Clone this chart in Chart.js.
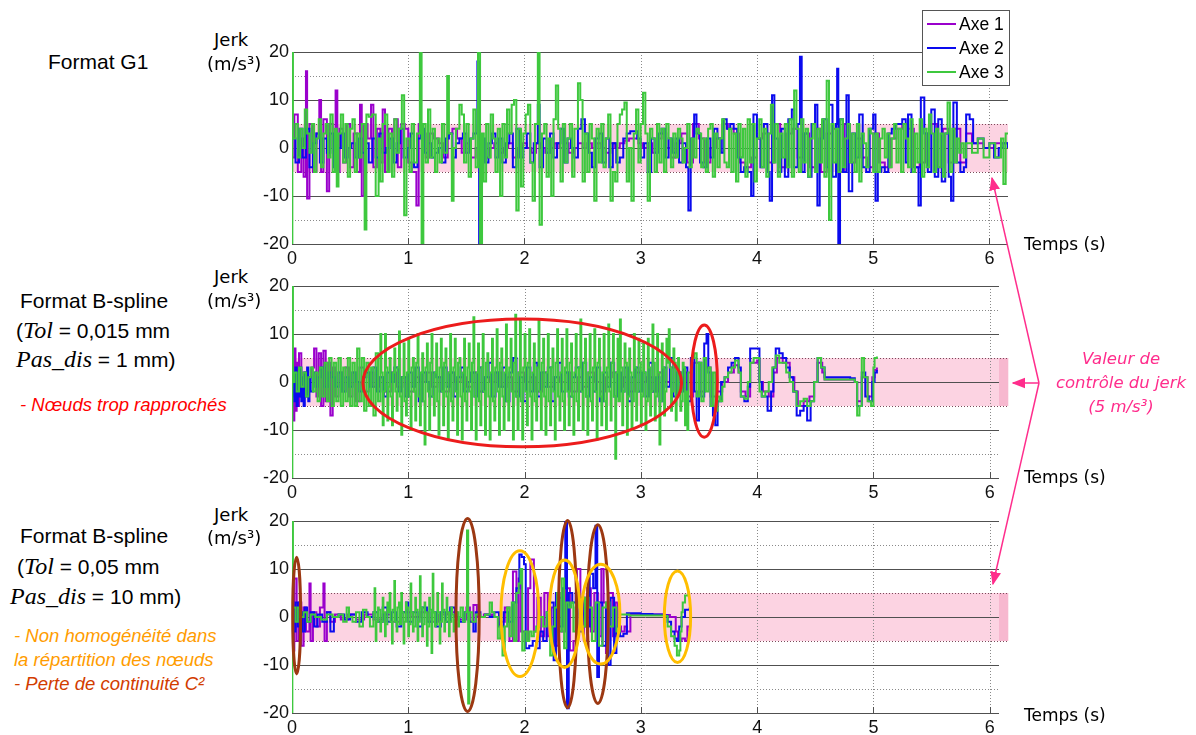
<!DOCTYPE html>
<html>
<head>
<meta charset="utf-8">
<script src="https://cdn.jsdelivr.net/npm/chart.js@4.4.1/dist/chart.umd.min.js"></script>
<style>
  html, body { margin: 0; padding: 0; background: #fff; overflow: hidden; }
  #page { position: relative; width: 1196px; height: 735px; font-family: "Liberation Sans", Arial, sans-serif; color: #000; }
  canvas { position: absolute; left: 250px; }
  .t { position: absolute; white-space: nowrap; line-height: 1; }
  .fmt { font-size: 21px; }
  .ser { font-family: "Liberation Serif", "Times New Roman", serif; font-style: italic; font-size: 24px; }
  .unit { font-family: "DejaVu Sans", sans-serif; font-size: 18px; }
  .temps { font-family: "DejaVu Sans", sans-serif; font-size: 17px; }
  .note { font-style: italic; font-size: 18.5px; }
  .pink { font-family: "DejaVu Sans", sans-serif; font-style: italic; font-size: 16.5px; color: #ff2d8c; width: 180px; left: 1031px; text-align: center; }
  #legend { position: absolute; left: 922px; top: 10px; width: 88px; height: 76px; border: 1px solid #555; background: #fff; box-sizing: border-box; }
  #legend div { position: absolute; left: 4px; height: 20px; font-size: 17.5px; line-height: 20px; }
  #legend span { display: inline-block; width: 29px; height: 2px; vertical-align: middle; margin-right: 3px; position: relative; top: -1px; }
  svg { position: absolute; left: 0; top: 0; }
</style>
</head>
<body>
<div id="page">
  <canvas id="c1" width="946" height="236" style="top:38px"></canvas>
  <canvas id="c2" width="946" height="236" style="top:272px"></canvas>
  <canvas id="c3" width="946" height="236" style="top:507px"></canvas>

  <div class="t fmt" style="left:48px;top:51px">Format G1</div>

  <div class="t fmt" style="left:20px;top:290px">Format B-spline</div>
  <div class="t fmt" style="left:16px;top:318px">(<span class="ser">Tol</span> = 0,015 mm</div>
  <div class="t fmt" style="left:16px;top:347px"><span class="ser">Pas_dis</span> = 1 mm)</div>
  <div class="t note" style="left:20px;top:396px;color:#ff0000">- Nœuds trop rapprochés</div>

  <div class="t fmt" style="left:20px;top:525px">Format B-spline</div>
  <div class="t fmt" style="left:17px;top:554px">(<span class="ser">Tol</span> = 0,05 mm</div>
  <div class="t fmt" style="left:10px;top:584px"><span class="ser">Pas_dis</span> = 10 mm)</div>
  <div class="t note" style="left:14px;top:627px;color:#ff9c00">- Non homogénéité dans</div>
  <div class="t note" style="left:14px;top:651px;color:#ff9c00">la répartition des nœuds</div>
  <div class="t note" style="left:14px;top:675px;color:#d23c00">- Perte de continuité C²</div>

  <div class="t unit" style="left:214px;top:31px">Jerk</div>
  <div class="t unit" style="left:207px;top:55px">(m/s³)</div>
  <div class="t unit" style="left:214px;top:268px">Jerk</div>
  <div class="t unit" style="left:207px;top:292px">(m/s³)</div>
  <div class="t unit" style="left:214px;top:506px">Jerk</div>
  <div class="t unit" style="left:207px;top:529px">(m/s³)</div>

  <div class="t temps" style="left:1024px;top:236px">Temps (s)</div>
  <div class="t temps" style="left:1024px;top:469px">Temps (s)</div>
  <div class="t temps" style="left:1024px;top:707px">Temps (s)</div>

  <div class="t pink" style="top:351px">Valeur de</div>
  <div class="t pink" style="top:375px">contrôle du jerk</div>
  <div class="t pink" style="top:399px">(5 m/s³)</div>

  <svg width="1196" height="735">
    <defs>
      <marker id="ah" viewBox="0 0 10 10" refX="9" refY="5" markerWidth="9" markerHeight="9" orient="auto">
        <path d="M0,1 L10,5 L0,9 z" fill="#ff2d8c"/>
      </marker>
    </defs>
    <g stroke="#ff2d8c" stroke-width="1.5" fill="none">
      <line x1="1039" y1="383" x2="992" y2="178" marker-end="url(#ah)"/>
      <line x1="1039" y1="383" x2="993" y2="584" marker-end="url(#ah)"/>
      <line x1="1039" y1="383" x2="1013" y2="383" marker-end="url(#ah)"/>
    </g>
  </svg>

  <div id="legend">
    <div style="top:3px"><span style="background:#9a00cc"></span>Axe 1</div>
    <div style="top:27px"><span style="background:#0a0aee"></span>Axe 2</div>
    <div style="top:51px"><span style="background:#3ec83e"></span>Axe 3</div>
  </div>
</div>

<script>
// axis ticks
const xTicks = [0, 1, 2, 3, 4, 5, 6];
const yTicks = [-20, -10, 0, 10, 20];
const jerkLimit = 5;

// ---- Format G1 : [temps (s), jerk (m/s3)]
const g1Axe1 = [[0,-2],[0.02,7],[0.05,-5],[0.08,2],[0.10,-6],[0.12,16],[0.13,-10.5],[0.15,5],[0.18,-5],[0.21,3],[0.235,10],[0.25,-5],[0.27,6],[0.30,-9],[0.32,5],[0.35,0],[0.375,12],[0.39,-5],[0.41,4],[0.44,-3],[0.47,5],[0.50,-4],[0.53,3],[0.56,-5],[0.585,9],[0.60,-10],[0.62,5],[0.65,2],[0.68,9],[0.70,-4],[0.73,4],[0.76,-3],[0.78,8],[0.80,-5],[0.83,4],[0.86,2],[0.88,6],[0.91,-4],[0.94,5],[0.97,4],[1.00,-3],[1.03,-5],[1.07,-12],[1.09,5],[1.12,3],[1.15,-2],[1.18,3],[1.22,2],[1.26,1],[1.30,-2],[1.34,3],[1.38,4],[1.42,2],[1.46,-1],[1.50,1],[1.54,-2],[1.58,0],[1.62,1],[1.66,-2],[1.70,0],[1.74,1],[1.78,-1],[1.82,0],[1.86,1],[1.90,-2],[1.94,0],[1.98,1],[2.02,0],[2.06,-1],[2.10,1],[2.14,0],[2.18,-1],[2.22,0],[2.26,1],[2.30,0],[2.34,1],[2.38,-1],[2.42,0],[2.46,1],[2.50,0],[2.54,1],[2.58,0],[2.62,1],[2.66,0],[2.70,-1],[2.74,1],[2.78,0],[2.82,1],[2.86,1.5],[2.90,2],[2.94,2],[2.98,1],[3.02,0],[3.06,1],[3.10,-1],[3.14,2],[3.18,3],[3.22,0],[3.26,-2],[3.30,1],[3.35,3],[3.40,-3],[3.45,5],[3.50,2],[3.55,-3],[3.60,0],[3.65,2],[3.70,5],[3.75,4],[3.80,3],[3.85,-3],[3.90,-4],[3.95,-2],[4.00,2],[4.05,3],[4.10,-3],[4.15,5],[4.20,-4],[4.25,3],[4.30,4],[4.35,-2],[4.40,3],[4.45,-4],[4.50,4],[4.55,-5],[4.60,3],[4.65,4],[4.70,-5],[4.75,5],[4.80,-3],[4.85,2],[4.90,-2],[4.95,-4],[5.00,3],[5.05,-3],[5.10,-4],[5.15,2],[5.20,4],[5.25,5],[5.30,4],[5.35,-4],[5.40,-3],[5.45,3],[5.50,5],[5.55,-4],[5.60,4],[5.65,-3],[5.70,4],[5.75,-3],[5.80,3],[5.85,1],[5.95,0],[6.05,1],[6.16,0]];
const g1Axe2 = [[0,2],[0.03,-3],[0.06,4],[0.09,-2],[0.12,4],[0.15,-4],[0.18,1],[0.21,3],[0.24,-3],[0.27,2],[0.30,-1],[0.33,3],[0.36,-4],[0.39,0],[0.42,3],[0.45,-2],[0.48,0],[0.51,1],[0.54,-2],[0.57,2],[0.60,-1],[0.63,1],[0.66,-3],[0.69,2],[0.72,-2],[0.75,3],[0.78,-1],[0.81,0],[0.84,2],[0.87,-3],[0.90,1],[0.93,4],[0.96,-2],[0.99,0],[1.02,3],[1.05,-4],[1.08,2],[1.11,4],[1.14,-1],[1.17,1],[1.20,-2],[1.23,-1],[1.26,0],[1.29,-3],[1.32,2],[1.35,3],[1.38,-2],[1.41,1],[1.44,2],[1.47,3],[1.50,-1],[1.53,2],[1.56,3],[1.595,18],[1.61,-20],[1.625,2],[1.66,-3],[1.69,1],[1.72,3],[1.75,-2],[1.78,2],[1.81,-3],[1.84,1],[1.87,3],[1.90,-4],[1.93,4],[1.96,-2],[1.99,0],[2.02,3],[2.05,-3],[2.08,1],[2.115,9],[2.13,-4],[2.16,2],[2.19,-1],[2.22,3],[2.25,-2],[2.28,1],[2.31,4],[2.34,-3],[2.37,2],[2.40,0],[2.43,-2],[2.46,4],[2.49,6],[2.52,3],[2.55,-1],[2.58,-4],[2.61,2],[2.64,3],[2.67,-3],[2.70,2],[2.73,-4],[2.76,1],[2.79,-3],[2.82,-2],[2.85,2],[2.88,3],[2.91,3.5],[2.94,3.5],[2.97,2],[3.00,-2],[3.03,1],[3.06,-5],[3.09,2],[3.12,-1],[3.15,3],[3.18,4],[3.21,-2],[3.24,2],[3.27,-1],[3.30,2],[3.33,-3],[3.36,1],[3.39,-4],[3.41,-13],[3.43,2],[3.46,7],[3.48,3],[3.51,-3],[3.54,-4],[3.57,2],[3.60,-2],[3.63,4],[3.66,2],[3.69,-1],[3.71,6],[3.74,4],[3.77,5],[3.80,4],[3.83,-2],[3.86,-5],[3.89,-4],[3.92,-5],[3.95,-10],[3.97,7],[4.00,2],[4.03,-4],[4.06,5],[4.09,-5],[4.11,-11],[4.13,11],[4.15,2],[4.18,-5],[4.21,4],[4.24,-6],[4.27,6],[4.30,8],[4.32,-4],[4.35,5],[4.37,19],[4.385,-5],[4.41,3],[4.44,-6],[4.47,5],[4.50,9],[4.52,-12],[4.54,2],[4.57,6],[4.60,-4],[4.62,9],[4.65,-6],[4.68,5],[4.69,16.5],[4.70,-20],[4.715,6],[4.74,-5],[4.77,11],[4.79,-9],[4.82,3],[4.85,-2],[4.88,7],[4.91,-4],[4.94,-5],[4.97,4],[5.00,7],[5.02,-11],[5.04,-5],[5.07,-4],[5.10,-5],[5.13,3],[5.16,4],[5.19,5],[5.22,5],[5.25,6],[5.28,-3],[5.30,7],[5.33,-5],[5.36,-4],[5.39,-12],[5.41,10.5],[5.44,3],[5.47,-5],[5.50,8],[5.53,-6],[5.56,6],[5.59,-7],[5.62,3],[5.65,-6],[5.67,-11],[5.69,9.5],[5.72,-3],[5.75,-5],[5.78,-4],[5.80,7],[5.83,6],[5.86,1],[5.90,2],[5.95,0],[6.00,1],[6.04,-2],[6.08,0],[6.12,1],[6.16,0]];
const g1Axe3 = [[0,-20],[0.003,20],[0.008,2],[0.03,5],[0.05,-2],[0.07,4],[0.09,0],[0.11,8],[0.13,3],[0.15,-1],[0.17,5],[0.19,-5],[0.21,2],[0.23,6],[0.25,-4],[0.27,3],[0.29,5],[0.31,-2],[0.33,7],[0.35,-5],[0.37,4],[0.385,-8],[0.40,3],[0.42,7],[0.44,-3],[0.46,5],[0.48,-6],[0.50,4],[0.52,6],[0.54,-5],[0.56,3],[0.58,-2],[0.60,5],[0.625,-17],[0.64,7],[0.66,6.5],[0.69,7],[0.72,-10],[0.745,2],[0.76,-7],[0.78,5],[0.80,7],[0.82,-5],[0.84,3],[0.86,-6],[0.88,6],[0.90,-1],[0.92,4],[0.945,11],[0.965,-14],[0.985,2],[1.01,-5],[1.03,5],[1.05,-3],[1.075,3],[1.10,20],[1.115,-20],[1.13,5],[1.15,-3],[1.17,8],[1.19,-2],[1.21,4],[1.23,-5],[1.25,2],[1.27,-3],[1.29,5],[1.31,-1],[1.335,15],[1.35,3],[1.375,-11],[1.39,0],[1.41,4],[1.44,9],[1.46,7],[1.48,-3],[1.50,5],[1.52,-6],[1.54,2],[1.56,8],[1.58,-4],[1.60,20],[1.618,-20],[1.635,3],[1.65,-7],[1.67,5],[1.69,-2],[1.71,7],[1.73,2],[1.75,-5],[1.77,4],[1.79,-10],[1.81,5],[1.83,-2],[1.85,8],[1.87,3],[1.89,9],[1.91,10],[1.93,-13],[1.95,4],[1.97,-8],[1.99,3],[2.01,7],[2.03,9],[2.05,-3],[2.07,-11],[2.09,5],[2.115,20],[2.13,-16],[2.15,3],[2.17,5],[2.19,-6],[2.21,2],[2.23,-10],[2.25,6],[2.27,13],[2.29,4],[2.31,-7],[2.33,5],[2.35,-3],[2.37,2],[2.39,5],[2.41,-6],[2.43,4],[2.46,13.5],[2.48,10],[2.50,-7],[2.52,3],[2.54,-5],[2.56,5],[2.58,2],[2.60,-11],[2.62,4],[2.64,-3],[2.66,5],[2.68,-4],[2.70,2],[2.72,7],[2.74,-11],[2.76,-5],[2.78,-7],[2.80,5],[2.82,7],[2.84,8],[2.86,9.5],[2.88,-7],[2.90,0],[2.92,-11],[2.94,3],[2.96,8],[2.98,-3],[3.00,5],[3.02,11.5],[3.04,3],[3.06,-11],[3.08,4],[3.10,2],[3.12,-5],[3.14,5],[3.16,-3],[3.18,4],[3.20,-5],[3.22,5],[3.24,2],[3.26,-4],[3.28,3],[3.30,-2],[3.32,4],[3.34,2],[3.36,-3],[3.38,0],[3.40,5],[3.42,-4],[3.44,2],[3.46,-2],[3.48,4],[3.50,3],[3.52,-4],[3.54,2],[3.56,-5],[3.58,4],[3.60,5],[3.62,-6],[3.64,3],[3.66,-4],[3.68,2],[3.70,6],[3.72,-3],[3.74,-4],[3.76,4],[3.78,-5],[3.80,3],[3.82,-7],[3.84,5],[3.86,-2],[3.88,4],[3.90,-6],[3.92,6],[3.94,-3],[3.96,5],[3.98,-7],[4.00,2],[4.02,6],[4.04,-4],[4.06,4],[4.08,-6],[4.10,3],[4.12,9],[4.14,-3],[4.16,5],[4.18,-6],[4.20,3],[4.22,-2],[4.24,5],[4.26,-4],[4.28,6],[4.30,-6],[4.32,12],[4.34,4],[4.36,-5],[4.38,6],[4.40,-3],[4.42,4],[4.44,-6],[4.46,2],[4.48,5],[4.50,-5],[4.52,4],[4.54,-3],[4.56,6],[4.58,-6],[4.60,14],[4.62,-15],[4.64,5],[4.66,-3],[4.68,4],[4.70,-5],[4.72,6],[4.74,-4],[4.76,2],[4.78,5],[4.80,-3],[4.82,3],[4.84,-5],[4.86,5],[4.88,-7],[4.90,3],[4.92,1],[4.94,-4],[4.96,4],[4.98,3],[5.00,-5],[5.02,3],[5.04,-5],[5.06,2],[5.08,4],[5.10,-2],[5.12,3],[5.14,-4],[5.16,2],[5.18,5],[5.20,-3],[5.22,4],[5.24,-5],[5.26,5],[5.28,2],[5.30,-4],[5.32,6],[5.34,-5],[5.36,3],[5.38,-3],[5.40,6],[5.42,-6],[5.44,4],[5.46,-4],[5.48,7],[5.50,3],[5.52,-5],[5.54,4],[5.56,-4],[5.58,3],[5.60,-6],[5.62,3],[5.64,9.5],[5.66,-5],[5.68,4],[5.70,-3],[5.72,2],[5.74,-1],[5.76,1],[5.78,-2],[5.80,1],[5.85,-1],[5.90,2],[5.95,-2],[6.00,1],[6.05,-2],[6.10,2],[6.12,-7.5],[6.14,3],[6.16,3]];

// ---- B-spline, Tol 0,015 mm, Pas_dis 1 mm
const bs1Axe1 = [[0,5],[0.01,-8],[0.02,7],[0.03,-6],[0.04,4],[0.05,-5],[0.06,6],[0.08,-3],[0.10,2],[0.12,-2],[0.14,1],[0.17,3],[0.19,7],[0.21,-3],[0.23,6],[0.25,-5],[0.27,6.5],[0.29,-4],[0.31,4],[0.33,-7],[0.35,3],[0.37,-3],[0.40,2],[0.43,-2],[0.46,3],[0.49,-3],[0.52,2],[0.55,-4],[0.58,3],[0.62,-2],[0.66,2],[0.70,-1],[0.75,1],[0.80,-2],[0.85,2],[0.90,-1],[0.95,1],[1.00,-2],[1.05,1],[1.10,0],[1.15,2],[1.20,-1],[1.25,1],[1.30,-2],[1.35,2],[1.40,0],[1.45,1],[1.50,-1],[1.55,2],[1.60,-2],[1.65,1],[1.70,0],[1.75,2],[1.80,-1],[1.85,1],[1.90,-2],[1.95,2],[2.00,0],[2.05,1],[2.10,-2],[2.15,2],[2.20,-1],[2.25,1],[2.30,0],[2.35,2],[2.40,-2],[2.45,1],[2.50,-1],[2.55,2],[2.60,0],[2.65,-2],[2.70,1],[2.75,2],[2.80,-1],[2.85,1],[2.90,-2],[2.95,2],[3.00,0],[3.05,1],[3.10,-2],[3.15,2],[3.20,0],[3.25,3],[3.30,-2],[3.35,2],[3.40,-3],[3.45,4],[3.50,-2],[3.55,3],[3.60,-3],[3.65,-2],[3.70,0],[3.75,2],[3.80,3.5],[3.84,2],[3.86,-2],[3.90,-3],[3.94,4],[4.00,4.5],[4.02,0],[4.05,-2],[4.10,-3],[4.14,2],[4.17,5],[4.22,4],[4.28,1],[4.32,-2],[4.35,-5],[4.40,-4],[4.45,-3],[4.49,0],[4.52,4],[4.56,2],[4.58,0.5],[4.80,0.5],[4.84,0],[4.86,-4],[4.90,1],[4.95,-3],[4.99,1],[5.01,2.5],[5.03,3]];
const bs1Axe2 = [[0,-3],[0.01,2],[0.02,-4],[0.03,3],[0.04,-5],[0.05,2],[0.06,-3],[0.07,3],[0.08,-4],[0.09,1],[0.10,-5],[0.11,2],[0.12,-3],[0.13,3],[0.14,-4],[0.15,1],[0.16,-2],[0.18,2],[0.20,-1],[0.22,1],[0.25,3],[0.28,-1],[0.31,2],[0.34,1],[0.37,-1],[0.40,2],[0.43,-2],[0.46,1],[0.49,-1],[0.52,2],[0.55,0],[0.58,-2],[0.61,1],[0.64,2],[0.67,-1],[0.70,3],[0.73,-2],[0.76,1],[0.79,-3],[0.82,2],[0.85,0],[0.88,3],[0.91,-2],[0.94,1],[0.97,-3],[1.00,2],[1.03,-1],[1.06,3],[1.09,-4],[1.12,2],[1.15,0],[1.18,-3],[1.21,2],[1.24,1],[1.27,-2],[1.30,3],[1.33,-1],[1.36,2],[1.39,-3],[1.42,1],[1.45,3],[1.48,-2],[1.51,0],[1.54,2],[1.57,-3],[1.60,3],[1.63,-2],[1.66,1],[1.69,4],[1.72,-3],[1.75,2],[1.78,-1],[1.81,3],[1.84,-4],[1.87,2],[1.90,5],[1.93,-3],[1.96,1],[1.99,-4],[2.02,3],[2.05,-2],[2.08,4],[2.11,-3],[2.14,2],[2.17,-1],[2.20,3],[2.23,-4],[2.26,1],[2.29,4],[2.32,-2],[2.35,2],[2.38,-3],[2.41,1],[2.44,3],[2.47,-2],[2.50,4],[2.53,-3],[2.56,1],[2.59,-2],[2.62,3],[2.65,-4],[2.68,2],[2.71,-1],[2.74,4],[2.77,-3],[2.80,2],[2.83,-2],[2.86,3],[2.89,-4],[2.92,1],[2.95,3],[2.98,-2],[3.01,2],[3.04,-3],[3.07,4],[3.10,-2],[3.13,1],[3.16,-4],[3.19,3],[3.22,-1],[3.25,5],[3.28,-3],[3.31,2],[3.34,-2],[3.37,3],[3.40,-4],[3.43,5],[3.46,-2],[3.48,-8],[3.50,4],[3.52,-3],[3.545,8],[3.565,10],[3.58,2],[3.60,-5],[3.62,-7],[3.64,-9],[3.66,-4],[3.69,0],[3.72,1],[3.75,3],[3.78,4],[3.81,5],[3.84,3],[3.86,-3],[3.89,-4],[3.92,-1],[3.94,7],[3.97,7],[4.00,7],[4.02,0],[4.04,-3],[4.07,-3],[4.09,-6],[4.12,-2],[4.14,3],[4.16,7],[4.19,6],[4.22,5],[4.25,3],[4.28,1],[4.31,-2],[4.34,-7],[4.37,-6],[4.40,-5],[4.43,-8],[4.46,-4],[4.49,0],[4.52,5],[4.55,3],[4.58,1],[4.70,1],[4.80,0.8],[4.84,0],[4.86,-5],[4.90,2],[4.93,-3],[4.96,-4],[4.99,0],[5.01,2],[5.03,2.5]];
const bs1Axe3 = [[0,-20],[0.003,20],[0.008,0],[0.02,2],[0.04,-2],[0.06,3],[0.08,-1],[0.10,2],[0.12,-3],[0.14,1],[0.16,3],[0.18,-2],[0.20,2],[0.22,-4],[0.24,3],[0.26,-3],[0.28,4],[0.30,-4],[0.32,5],[0.34,-5],[0.36,4],[0.38,-4],[0.40,5],[0.42,-5],[0.44,3],[0.46,-4],[0.48,5],[0.50,-5],[0.52,4],[0.54,-5],[0.56,7],[0.58,-4],[0.60,5],[0.62,-6],[0.64,4],[0.66,-5],[0.68,3],[0.70,-7],[0.72,6],[0.74,-4],
  [0.76,10],[0.768,2],[0.78,-9],[0.788,-2],[0.80,10],[0.808,3],[0.82,-8],[0.828,-1],[0.84,5],[0.848,-3],[0.86,-9],[0.868,2],[0.88,7],[0.888,-2],[0.90,-6],[0.908,3],[0.92,10.5],[0.928,-3],[0.94,-11],[0.948,1],[0.96,8],[0.968,-4],[0.98,-7],[0.988,2],[1.00,9],[1.008,-3],[1.02,-10],[1.028,3],[1.04,5],[1.048,-2],[1.06,-8],[1.068,4],[1.08,10],[1.088,-3],[1.10,-9],[1.108,2],[1.12,6],[1.128,-4],[1.14,-13],[1.148,3],[1.16,8],[1.168,-2],[1.18,-10],[1.188,4],[1.20,10],[1.208,-3],[1.22,-7],[1.228,2],[1.24,8],[1.248,-4],[1.26,-11],[1.268,3],[1.28,9],[1.288,-2],[1.30,-9],[1.308,4],[1.32,7],[1.328,-3],[1.34,-12],[1.348,2],[1.36,10],[1.368,-4],[1.38,-8],[1.388,3],[1.40,9],[1.408,-2],[1.42,-11],[1.428,4],[1.44,5],[1.448,-3],[1.46,-12],[1.468,2],[1.48,9],[1.488,-4],[1.50,-8],[1.508,3],[1.52,8],[1.528,-2],[1.54,-10],[1.548,4],[1.56,13.5],[1.568,-3],[1.58,-12],[1.588,2],[1.60,8],[1.608,-4],[1.62,-9],[1.628,3],[1.64,10],[1.648,-2],[1.66,-11],[1.668,4],[1.68,6],[1.688,-3],[1.70,-12],[1.708,2],[1.72,9],[1.728,-4],[1.74,-8],[1.748,3],[1.76,11],[1.768,-2],[1.78,-11],[1.788,4],[1.80,7],[1.808,-3],[1.82,-10],[1.828,2],[1.84,12],[1.848,-4],[1.86,-8],[1.868,3],[1.88,9],[1.888,-2],[1.90,-12],[1.908,4],[1.92,14],[1.928,-3],[1.94,-10],[1.948,2],[1.96,13],[1.968,-4],[1.98,-12],[1.988,3],[2.00,10],[2.008,-2],[2.02,-9],[2.028,4],[2.04,11],[2.048,-3],[2.06,-12],[2.068,2],[2.08,8],[2.088,-4],[2.10,-8],[2.108,3],[2.12,13],[2.128,-2],[2.14,-10],[2.148,4],[2.16,9],[2.168,-3],[2.18,-11],[2.188,2],[2.20,10],[2.208,-4],[2.22,-9],[2.228,3],[2.24,7],[2.248,-2],[2.26,-12],[2.268,4],[2.28,11],[2.288,-3],[2.30,-8],[2.308,2],[2.32,9],[2.328,-4],[2.34,-10],[2.348,3],[2.36,11],[2.368,-2],[2.38,-9],[2.388,4],[2.40,8],[2.408,-3],[2.42,-11],[2.428,2],[2.44,10],[2.448,-4],[2.46,-8],[2.468,3],[2.48,13],[2.488,-2],[2.50,-10],[2.508,4],[2.52,9],[2.528,-3],[2.54,-11],[2.548,2],[2.56,10],[2.568,-4],[2.58,-8],[2.588,3],[2.60,11],[2.608,-2],[2.62,-12],[2.628,4],[2.64,9],[2.648,-3],[2.66,-9],[2.668,2],[2.68,10],[2.688,-4],[2.70,-10],[2.708,3],[2.72,12],[2.728,-2],[2.74,-8],[2.748,4],[2.76,10],[2.768,-3],[2.78,-16],[2.788,2],[2.80,9],[2.808,-4],[2.82,13],[2.828,3],[2.84,-9],[2.848,-2],[2.86,8],[2.868,4],[2.88,-11],[2.888,-3],[2.90,7],[2.908,2],[2.92,-10],[2.928,-4],[2.94,10],[2.948,3],[2.96,-8],[2.968,-2],[2.98,9],[2.988,4],[3.00,-9],[3.008,-3],[3.02,8],[3.028,2],[3.04,-10],[3.048,-4],[3.06,9],[3.068,3],[3.08,-7],[3.088,-2],[3.10,12],[3.108,4],[3.12,-8],[3.128,-3],[3.14,10],[3.148,2],[3.16,-13],[3.168,-4],[3.18,8],[3.188,3],[3.20,-7],[3.208,-2],[3.22,9],[3.23,4],[3.24,11],[3.248,3],[3.26,-6],[3.268,-2],[3.28,7],[3.288,4],[3.30,-8],[3.308,-3],[3.32,5],[3.328,2],[3.34,-6],[3.348,-4],[3.36,4],[3.368,3],[3.38,-9],[3.388,-2],[3.40,-10],[3.408,2],
  [3.42,2],[3.44,5],[3.46,6],[3.48,-3],[3.50,4],[3.52,-4],[3.54,5],[3.56,-2],[3.58,3],[3.60,-5],[3.62,2],[3.64,-6],[3.66,-3],[3.68,-4],[3.70,-1],[3.72,1],[3.75,2],[3.78,3],[3.81,4.5],[3.84,2],[3.86,-3],[3.89,-3.5],[3.92,0],[3.94,4],[3.97,5],[4.00,5],[4.02,-2],[4.04,-3],[4.07,-2],[4.10,0],[4.13,3],[4.16,5.5],[4.19,4],[4.22,4],[4.25,2],[4.28,0],[4.31,-2],[4.34,-5],[4.37,-4],[4.40,-3.5],[4.43,-5],[4.46,-4],[4.49,0],[4.52,5],[4.55,3],[4.58,0.5],[4.70,0.5],[4.80,0.5],[4.84,0],[4.86,-7],[4.88,-5],[4.90,5],[4.92,1],[4.95,-4],[4.98,-5],[5.00,3],[5.01,5],[5.03,5.3]];

// ---- B-spline, Tol 0,05 mm, Pas_dis 10 mm
const bs2Axe1 = [[0,-7],[0.02,8],[0.04,-5],[0.06,3],[0.08,-6],[0.10,2],[0.12,-3],[0.15,7],[0.16,-5],[0.18,1],[0.21,-2],[0.24,2],[0.27,7],[0.28,-5],[0.30,1],[0.33,-1],[0.37,0.5],[0.42,-0.5],[0.48,0.5],[0.55,-0.5],[0.62,0.5],[0.70,-0.5],[0.78,0.5],[0.86,-1],[0.94,1],[1.02,0],[1.10,1],[1.18,-1],[1.26,0.5],[1.34,1],[1.42,-0.5],[1.50,2],[1.53,-1],[1.56,2.5],[1.59,0],[1.65,0.5],[1.72,0],[1.78,-1],[1.83,2],[1.87,-5],[1.90,9.5],[1.93,-5],[1.95,8],[1.97,-3],[2.00,-5],[2.03,6],[2.05,12],[2.08,-3],[2.11,4],[2.14,-4],[2.17,5],[2.20,-4],[2.23,2],[2.26,-6],[2.29,4],[2.32,-3],[2.35,6],[2.39,-7],[2.42,-5],[2.45,10],[2.48,4],[2.51,-5],[2.54,6],[2.57,-3],[2.60,5],[2.63,-4],[2.66,10],[2.68,3],[2.70,-7.5],[2.72,5],[2.76,-4],[2.78,3],[2.80,-2],[2.83,-3],[2.86,-2],[2.88,-3],[2.91,0.5],[3.00,0.5],[3.10,0.5],[3.20,0.4],[3.25,0],[3.30,-3],[3.32,-5],[3.35,-4.5],[3.38,-5],[3.40,-2],[3.42,-3]];
const bs2Axe2 = [[0,2],[0.01,-3],[0.03,3],[0.05,-2],[0.07,1],[0.09,-3],[0.11,2],[0.13,-1],[0.16,1],[0.19,-2],[0.22,0.5],[0.26,-1],[0.30,1],[0.33,-3],[0.36,0],[0.40,0.5],[0.45,-0.5],[0.50,0.5],[0.55,-1],[0.60,1],[0.65,0],[0.70,1],[0.74,-1],[0.78,2],[0.82,-1],[0.86,1],[0.90,-2],[0.94,1],[0.98,3],[1.00,-1],[1.04,1],[1.08,-2],[1.12,2],[1.16,-1],[1.20,1],[1.24,-2],[1.28,1],[1.32,-1],[1.36,2],[1.40,0],[1.44,-1],[1.48,1],[1.52,-1],[1.56,-3],[1.58,1],[1.62,0],[1.66,0.5],[1.70,0],[1.74,1],[1.78,-2],[1.82,1],[1.86,-1],[1.90,3],[1.93,6],[1.955,13],[1.975,12.5],[1.995,11],[2.01,-6.5],[2.04,-6],[2.07,-5],[2.10,-6.5],[2.13,-3],[2.16,-5],[2.19,1],[2.22,3],[2.25,-9],[2.27,5],[2.30,-2],[2.33,6],[2.35,20],[2.365,-19],[2.38,5],[2.41,3],[2.44,5],[2.47,-3],[2.50,4],[2.53,-2],[2.56,9],[2.59,6],[2.61,19],[2.625,-12.5],[2.64,3],[2.67,-6],[2.70,2],[2.72,-10],[2.74,4],[2.77,-7.5],[2.79,-2],[2.82,-4],[2.85,-3.5],[2.88,0.8],[3.00,0.6],[3.10,0.5],[3.20,0.3],[3.23,-1],[3.26,-3],[3.29,-4.5],[3.31,-5],[3.33,-2],[3.35,0],[3.38,1.5],[3.42,2]];
const bs2Axe3 = [[0,-20],[0.003,20],[0.008,2],[0.03,-1],[0.05,2],[0.07,0],[0.10,1],[0.13,-1],[0.16,0.5],[0.20,0],[0.25,-0.5],[0.30,0.5],[0.35,0],[0.40,0.5],[0.44,-1],[0.47,2],[0.49,0],[0.52,-1],[0.55,1],[0.58,-2],[0.61,1.5],[0.64,0],[0.67,-2],[0.70,1],
  [0.71,6],[0.716,1],[0.72,-5],[0.726,-1],[0.74,2],[0.746,1.5],[0.76,-3],[0.766,-1],[0.78,4],[0.786,1],[0.80,-4],[0.806,-1.5],[0.82,3],[0.826,1],[0.84,5],[0.846,-1],[0.86,-5.5],[0.866,1.5],[0.88,7.5],[0.886,-1],[0.90,-3],[0.906,2],[0.92,3],[0.926,-1.5],[0.94,5],[0.946,1],[0.96,-5.5],[0.966,-1],[0.98,3],[0.986,2],[1.00,-4],[1.006,-1.5],[1.02,7],[1.026,1],[1.04,-3],[1.046,-2],[1.06,4],[1.066,1.5],[1.08,-5],[1.086,-1],[1.10,8.5],[1.106,2],[1.12,-4],[1.126,-1.5],[1.14,3],[1.146,1],[1.16,-6],[1.166,-2],[1.18,4],[1.186,1.5],[1.20,-7.5],[1.206,-1],[1.21,9],[1.216,1],[1.23,-2],[1.236,-1.5],[1.25,5],[1.256,1],[1.27,-5.5],[1.276,-1],[1.29,7],[1.296,1.5],[1.31,-3],[1.316,-1],[1.33,4],[1.336,1],[1.35,-4],[1.356,-1],[1.37,2],[1.376,0.5],[1.39,-3],[1.396,-0.5],[1.41,1],[1.43,-2],[1.436,0],[1.45,2],[1.47,-1],[1.49,1],
  [1.505,18],[1.515,-18],[1.525,1],[1.55,-1],[1.58,0.5],[1.62,0],[1.66,0.5],[1.70,3],[1.72,1],[1.74,0],[1.77,-4.5],[1.79,-2],[1.81,-8],[1.83,-2],[1.85,2],[1.87,-4],[1.89,3],[1.91,-5],[1.93,5],[1.95,7],[1.965,10],[1.98,-7],[2.00,-3],[2.02,-5],[2.04,-3],[2.06,-4],[2.08,-3],[2.10,-2],[2.13,0],[2.16,-2],[2.19,1],[2.22,-8],[2.24,-2],[2.26,2],[2.28,5],[2.30,-3],[2.32,8],[2.34,-6.5],[2.36,3],[2.38,2],[2.40,3],[2.42,-3],[2.44,2],[2.46,3],[2.49,-2],[2.52,4],[2.55,2],[2.58,-5],[2.61,3],[2.64,-6],[2.67,2],[2.70,3],[2.73,-2],[2.76,2],[2.79,-3],[2.82,0.5],[2.90,0.3],[3.00,0.3],[3.10,0.3],[3.20,0.2],[3.23,-2],[3.26,-4],[3.29,-6],[3.31,-8],[3.33,-7],[3.34,-3],[3.35,1],[3.36,3],[3.38,4.5],[3.41,5],[3.42,5]];

// annotation ellipses: centre (t, jerk) and half-axes, in data units
const bs1Marks = [
  { t: 1.98, j: -0.2, rt: 1.37, rj: 13.3, color: '#ec1c1c' },
  { t: 3.545, j: 0.2, rt: 0.113, rj: 11.7, color: '#ec1c1c' }
];
const bs2Marks = [
  { t: 0.04, j: 0.3, rt: 0.034, rj: 12.15, color: '#9c3812' },
  { t: 1.51, j: 0.4, rt: 0.10, rj: 20.1, color: '#9c3812' },
  { t: 2.37, j: 0.6, rt: 0.078, rj: 19.5, color: '#9c3812' },
  { t: 2.63, j: 0.6, rt: 0.09, rj: 18.6, color: '#9c3812' },
  { t: 1.96, j: 0.7, rt: 0.163, rj: 13.1, color: '#ffbe00' },
  { t: 2.345, j: 0.7, rt: 0.132, rj: 11.2, color: '#ffbe00' },
  { t: 2.655, j: 0.6, rt: 0.165, rj: 10.4, color: '#ffbe00' },
  { t: 3.315, j: 0.05, rt: 0.113, rj: 9.55, color: '#ffbe00' }
];

const colors = ['#9a00cc', '#0a0aee', '#3ec83e'];

// band, grid and ellipses drawn through the chart's own scales
const decor = {
  id: 'decor',
  beforeDatasetsDraw(chart, args, opts) {
    const { ctx, chartArea: a, scales: { x, y } } = chart;
    const line = (x1, y1, x2, y2) => { ctx.beginPath(); ctx.moveTo(x1, y1); ctx.lineTo(x2, y2); ctx.stroke(); };
    ctx.save();
    const yt = y.getPixelForValue(jerkLimit), yb = y.getPixelForValue(-jerkLimit);
    const bx = x.getPixelForValue(opts.bandEnd);
    ctx.fillStyle = '#fcd3e2';
    ctx.fillRect(a.left, yt, Math.min(bx, a.right) - a.left, yb - yt);
    if (bx > a.right) {
      ctx.fillStyle = '#f7b8cf';
      ctx.fillRect(a.right, yt, bx - a.right, yb - yt);
    }
    ctx.lineWidth = 1;
    ctx.setLineDash([1, 2]);
    ctx.strokeStyle = '#8a8a8a';
    xTicks.forEach(v => {
      if (v === 0) return;
      const px = Math.round(x.getPixelForValue(v)) + 0.5;
      line(px, a.top, px, a.bottom);
    });
    [15, -15].forEach(v => {
      const py = Math.round(y.getPixelForValue(v)) + 0.5;
      line(a.left, py, a.right, py);
    });
    ctx.strokeStyle = '#7a4a5a';
    [jerkLimit, -jerkLimit].forEach(v => {
      const py = Math.round(y.getPixelForValue(v)) + 0.5;
      line(a.left, py, Math.max(bx, a.right), py);
    });
    ctx.setLineDash([]);
    ctx.strokeStyle = '#505050';
    yTicks.forEach(v => {
      const py = Math.round(y.getPixelForValue(v)) + 0.5;
      line(a.left, py, a.right, py);
    });
    xTicks.forEach(v => {
      const px = Math.round(x.getPixelForValue(v)) + 0.5;
      line(px, a.bottom, px, a.bottom - 6);
    });
    ctx.restore();
  },
  afterDatasetsDraw(chart, args, opts) {
    const { ctx, scales: { x, y } } = chart;
    ctx.save();
    ctx.lineWidth = 3;
    (opts.marks || []).forEach(m => {
      const cx = x.getPixelForValue(m.t), cy = y.getPixelForValue(m.j);
      const rx = Math.abs(x.getPixelForValue(m.t + m.rt) - cx);
      const ry = Math.abs(y.getPixelForValue(m.j + m.rj) - cy);
      ctx.strokeStyle = m.color;
      ctx.beginPath();
      ctx.ellipse(cx, cy, rx, ry, 0, 0, Math.PI * 2);
      ctx.stroke();
    });
    ctx.restore();
  }
};

function makePanel(id, axes, xMax, rightPad, marks) {
  const tickFont = { family: '"Liberation Sans", Arial, sans-serif', size: 18 };
  return new Chart(document.getElementById(id), {
    type: 'line',
    data: {
      datasets: axes.map((pts, i) => ({
        label: 'Axe ' + (i + 1),
        data: pts.map(p => ({ x: p[0], y: p[1] })),
        borderColor: colors[i],
        borderWidth: 2,
        stepped: true,
        pointRadius: 0,
        fill: false,
        order: 2 - i
      }))
    },
    options: {
      responsive: false,
      animation: false,
      layout: { padding: { left: 0, right: rightPad, top: 14, bottom: 0 } },
      plugins: {
        legend: { display: false },
        tooltip: { enabled: false },
        decor: { bandEnd: 6.16, marks: marks }
      },
      scales: {
        x: {
          type: 'linear', min: 0, max: xMax,
          grid: { display: false, drawTicks: false },
          border: { display: false },
          ticks: { stepSize: 1, includeBounds: false, autoSkip: false, maxRotation: 0, padding: 4, color: '#111', font: tickFont,
                   callback: v => xTicks.includes(v) ? String(v) : '' },
          afterFit: s => { s.height = 30; }
        },
        y: {
          min: -20, max: 20,
          grid: { display: false, drawTicks: false },
          border: { display: false },
          ticks: { stepSize: 10, padding: 3, color: '#111', font: tickFont,
                   callback: v => yTicks.includes(v) ? String(v) : '' },
          afterFit: s => { s.width = 42; }
        }
      }
    },
    plugins: [decor]
  });
}

makePanel('c1', [g1Axe1, g1Axe2, g1Axe3], 6.16, 188, []);
makePanel('c2', [bs1Axe1, bs1Axe2, bs1Axe3], 6.08, 197, bs1Marks);
makePanel('c3', [bs2Axe1, bs2Axe2, bs2Axe3], 6.08, 197, bs2Marks);
</script>
</body>
</html>
